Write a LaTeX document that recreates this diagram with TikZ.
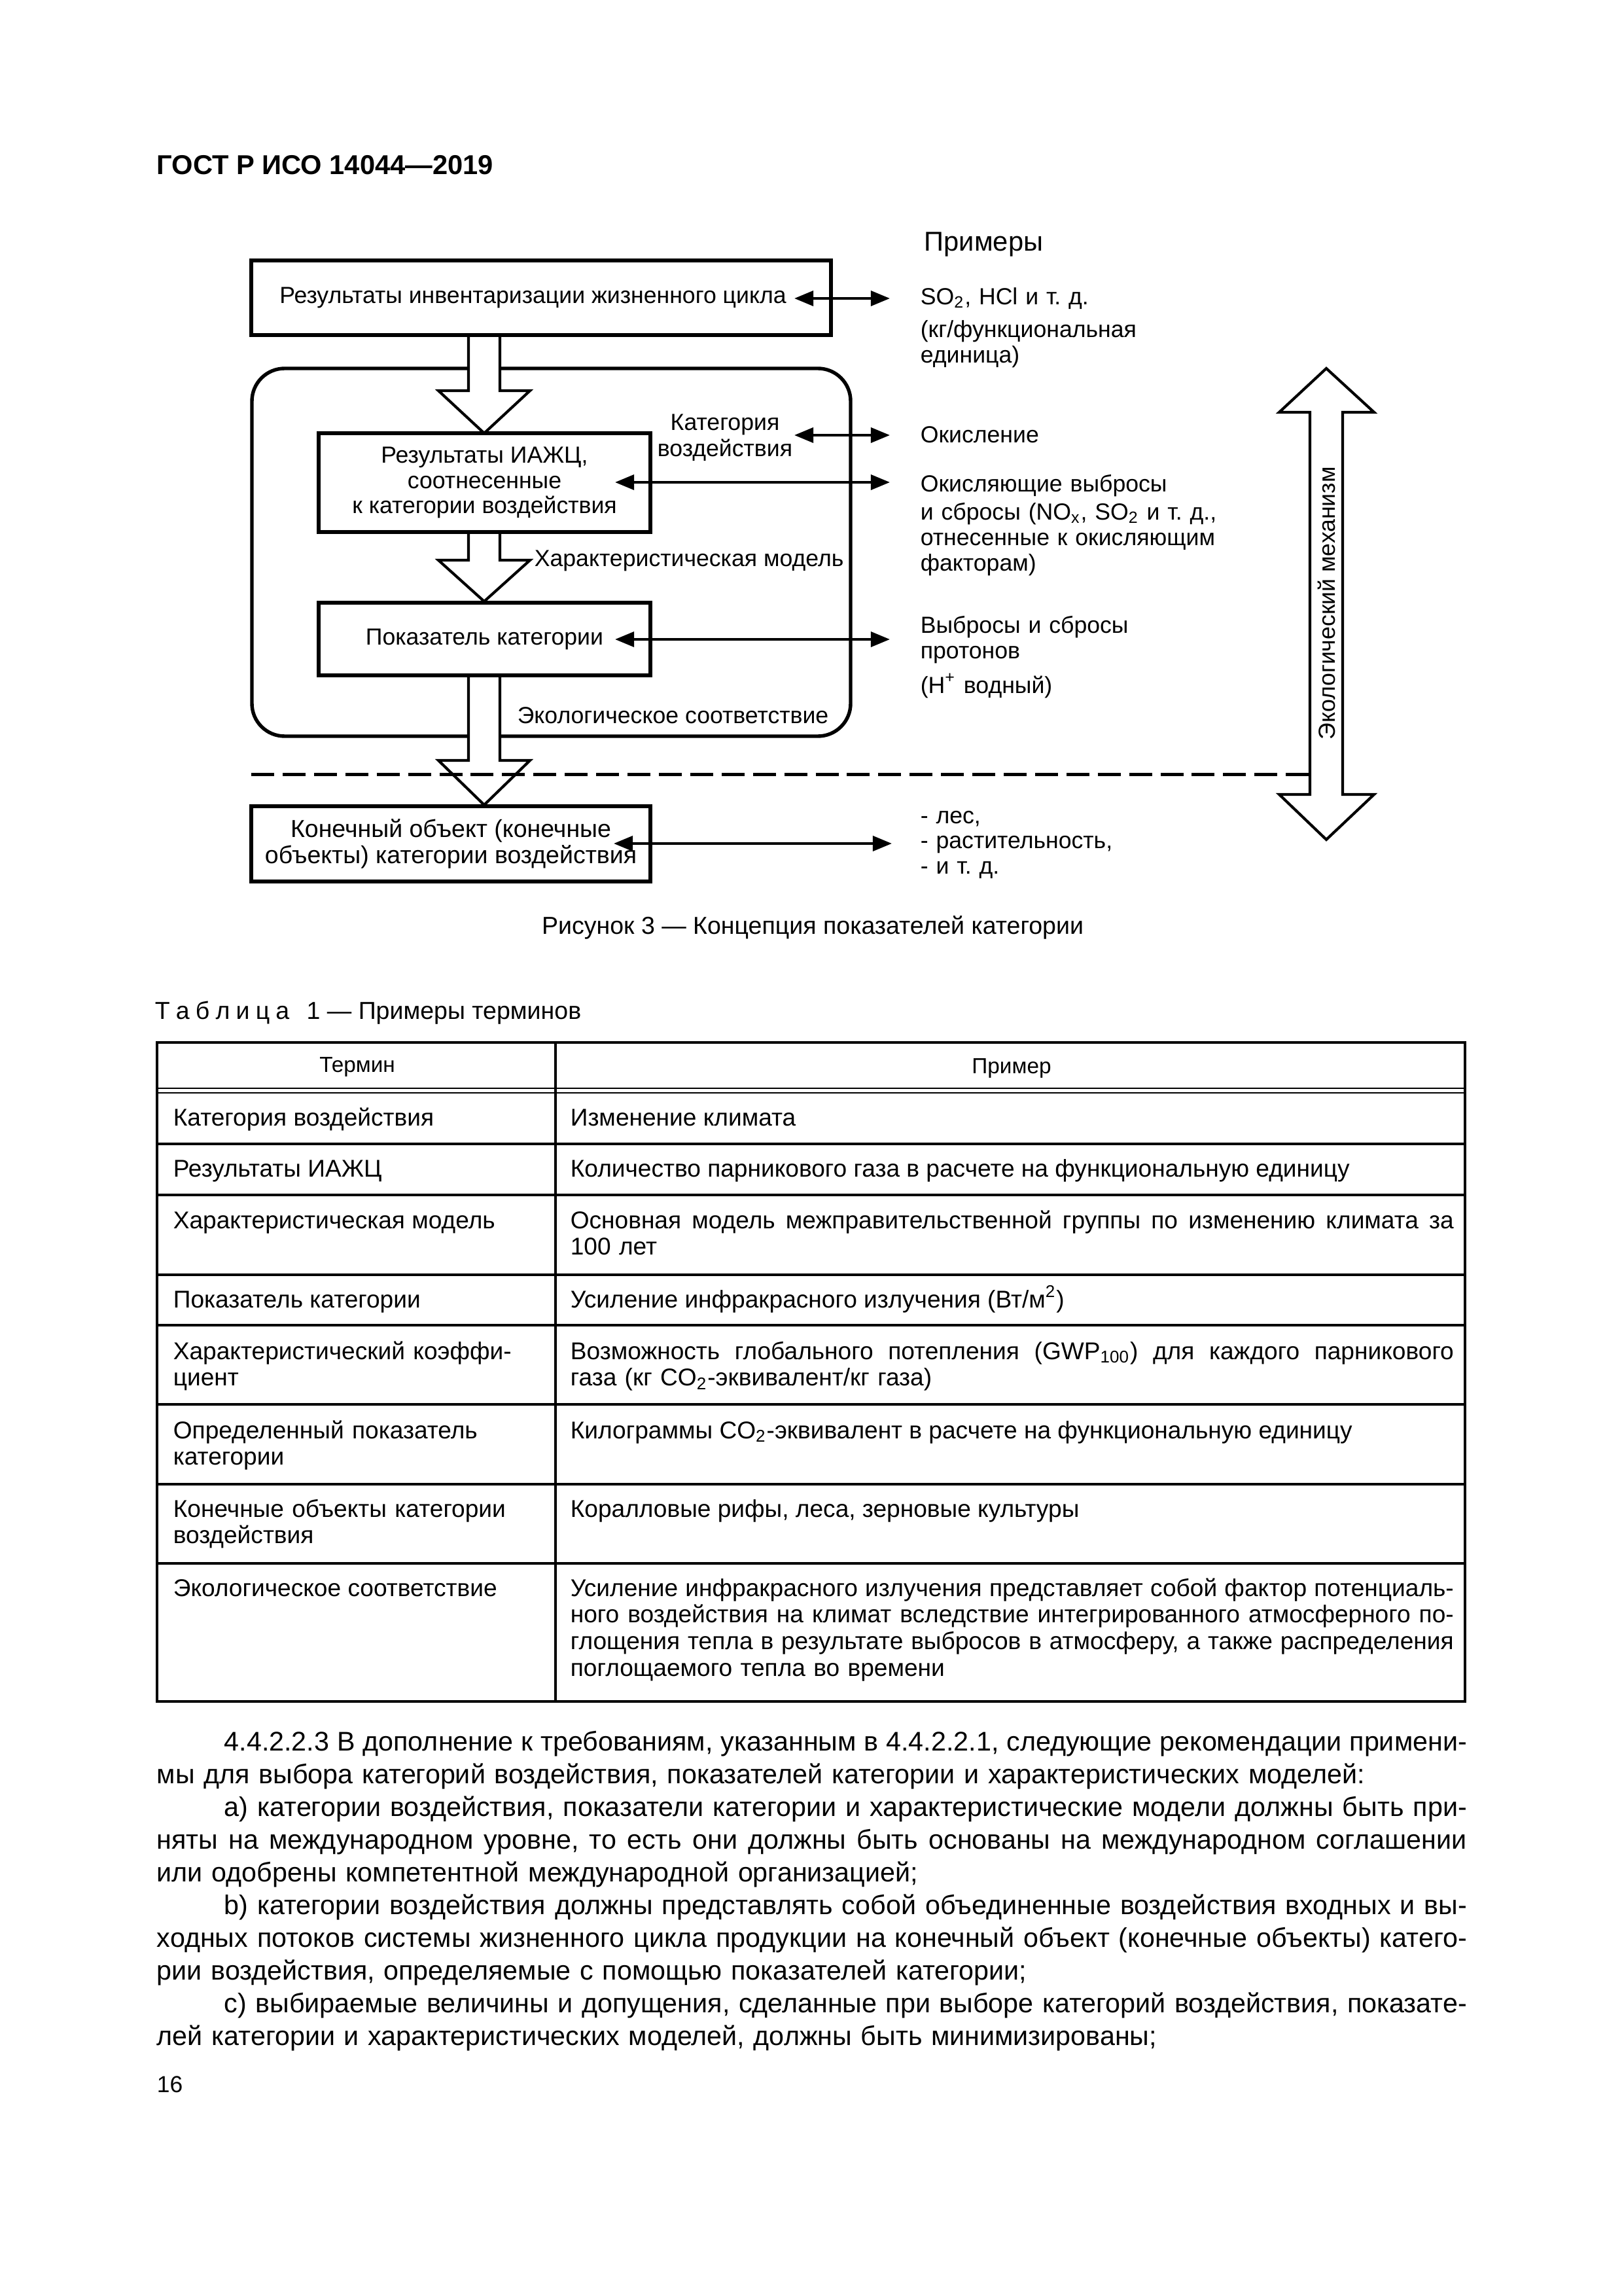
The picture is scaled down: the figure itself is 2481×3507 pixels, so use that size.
\documentclass[tikz,border=0pt]{standalone}
\usepackage{fontspec}
\setmainfont{Liberation Sans}
\usetikzlibrary{arrows.meta,positioning}
\frenchspacing
\newcommand\justline[1]{\makebox[\linewidth][s]{\spaceskip=.22em plus 1fil\relax#1}}
\newcommand\indline[1]{\hspace*{24.7pt}\makebox[\dimexpr\linewidth-24.7pt\relax][s]{\spaceskip=.22em plus 1fil\relax#1}}

\begin{document}
\begin{tikzpicture}[x=0.24pt,y=-0.24pt,
  box/.style={draw,line width=1.3pt,inner sep=0pt,align=center,font=\fontsize{8.55}{9.3}\selectfont},
  diag/.style={inner sep=0pt,font=\fontsize{8.55}{9.3}\selectfont},
  ex/.style={diag,anchor=base west,text width=130pt,align=left},
  conn/.style={line width=1pt,{Triangle[length=7pt,width=5.5pt]}-{Triangle[length=7pt,width=5.5pt]}},
  blk/.style={draw,fill=white,line width=1pt,line join=miter},
  tbl/.style={line width=0.9pt},
  cell/.style={inner sep=0pt,anchor=base west,align=left,font=\fontsize{8.9}{9.8}\selectfont},
  ]
  \useasboundingbox (0,0) rectangle (2481,3507);

  % page head
  \node[anchor=base west,inner sep=0pt,font=\fontsize{10}{12}\selectfont\bfseries] (gost) at (239,267) {ГОСТ Р ИСО 14044—2019};

  % frame of the impact model
  \draw[line width=1.3pt,rounded corners=12pt] (385,563) rectangle (1300,1125);

  % hollow arrows down the chain
  \filldraw[blk] (716,512) -- (716,597) -- (670,597) -- (740,662) -- (810,597) -- (764,597) -- (764,512) -- cycle;
  \filldraw[blk] (716,813) -- (716,856) -- (670,856) -- (740,919) -- (810,856) -- (764,856) -- (764,813) -- cycle;
  \filldraw[blk] (716,1032) -- (716,1162) -- (670,1162) -- (740,1230) -- (810,1162) -- (764,1162) -- (764,1032) -- cycle;

  % environmental mechanism arrow
  \filldraw[blk] (2002,630) -- (1955,630) -- (2027,563) -- (2100,630) -- (2052,630) -- (2052,1214)
    -- (2100,1214) -- (2027,1283) -- (1955,1214) -- (2002,1214) -- cycle;
  \node[diag,rotate=90] (mech) at (2027,922) {Экологический механизм};

  % boxes
  \node[box,minimum width=886*0.24pt,minimum height=114*0.24pt] (lci) at (827,455)
    {Результаты инвентаризации жизненного цикла\hspace*{6pt}};
  \node[box,minimum width=507*0.24pt,minimum height=151*0.24pt] (lcia) at (740.5,737.5)
    {Результаты ИАЖЦ,\\соотнесенные\\к категории воздействия};
  \node[box,minimum width=507*0.24pt,minimum height=111*0.24pt] (ind) at (740.5,976.5)
    {Показатель категории};
  \node[box,minimum width=610*0.24pt,minimum height=115*0.24pt,font=\fontsize{9}{9.6}\selectfont] (endpt) at (689,1289.5)
    {Конечный объект (конечные\\объекты) категории воздействия};

  % labels in the frame
  \node[diag,text width=62pt,align=center,anchor=base] (cat) at (1108,658) {Категория\\[0.3pt]воздействия};
  \node[diag,anchor=base west] (model) at (816,866) {Характеристическая модель};
  \node[diag,anchor=base west] (relev) at (790,1105) {Экологическое соответствие};

  % border of the endpoints
  \coordinate (dl) at (384,1183);
  \coordinate (dr) at (2002,1183);
  \draw[line width=1.2pt,dash pattern=on 8.4pt off 3.1pt] (dl) -- (dr);

  % examples
  \node[diag,anchor=base west,font=\fontsize{10}{12}\selectfont] (exhead) at (1412,384) {Примеры};
  \node[ex] (ex1) at (1406,466) {SO\textsubscript{2}, HCl и т. д.\\[2.6pt](кг/функциональная\\единица)};
  \node[ex] (ex2) at (1406,677) {Окисление};
  \node[ex] (ex3) at (1406,752) {Окисляющие выбросы\\[1pt]и сбросы (NO\textsubscript{x}, SO\textsubscript{2} и т. д.,\\отнесенные к окисляющим\\факторам)};
  \node[ex] (ex4) at (1406,968) {Выбросы и сбросы\\протонов\\[3.4pt](H\textsuperscript{+} водный)};
  \node[ex] (ex5) at (1406,1258) {- лес,\\- растительность,\\- и т. д.};

  \foreach \n/\xa/\xb/\y in {1/1214/1360/456, 2/1214/1360/665, 3/940/1360/737, 4/940/1360/977, 5/938/1363/1289} {
    \coordinate (in\n) at (\xa,\y);
    \coordinate (out\n) at (\xb,\y);
    \draw[conn] (in\n) -- (out\n);
  }

  \node[anchor=base,inner sep=0pt,font=\fontsize{9}{11}\selectfont] (fig) at (1242,1427) {Рисунок 3 — Концепция показателей категории};

  % table
  \node[anchor=base west,inner sep=0pt,font=\fontsize{9}{11}\selectfont] (tabttl) at (236,1557)
    {Т\hspace{.245em}а\hspace{.245em}б\hspace{.245em}л\hspace{.245em}и\hspace{.245em}ц\hspace{.245em}а\hspace{.7em}1 — Примеры терминов};
  \draw[tbl] (240,1593) rectangle (2239,2600);
  \draw[tbl] (849,1593) -- (849,2600);
  \draw[line width=0.6pt] (240,1663) -- (2239,1663) (240,1670) -- (2239,1670);
  \foreach \y in {1748,1826,1948,2025,2146,2268,2389}
    \draw[tbl] (240,\y) -- (2239,\y);

  \node[anchor=base,inner sep=0pt,font=\fontsize{8}{10}\selectfont] (hterm) at (546,1638) {Термин};
  \node[anchor=base,inner sep=0pt,font=\fontsize{8}{10}\selectfont] (hex) at (1546,1640) {Пример};

  \node[cell] (t1) at (264,1720) {Категория воздействия};
  \node[cell] (t2) at (264,1798) {Результаты ИАЖЦ};
  \node[cell] (t3) at (264,1877) {Характеристическая модель};
  \node[cell] (t4) at (264,1998) {Показатель категории};
  \node[cell,text width=140pt] (t5) at (264,2077) {Характеристический коэффи-\\циент};
  \node[cell,text width=140pt] (t6) at (264,2198) {Определенный показатель\\категории};
  \node[cell,text width=140pt] (t7) at (264,2318) {Конечные объекты категории\\воздействия};
  \node[cell] (t8) at (264,2439) {Экологическое соответствие};

  \node[cell] (e1) at (871,1720) {Изменение климата};
  \node[cell] (e2) at (871,1798) {Количество парникового газа в расчете на функциональную единицу};
  \node[cell,text width=324pt] (e3) at (871,1877)
    {\justline{Основная модель межправительственной группы по изменению климата за}\\100 лет};
  \node[cell] (e4) at (871,1998) {Усиление инфракрасного излучения (Вт/м\textsuperscript{2})};
  \node[cell,text width=324pt] (e5) at (871,2077)
    {\justline{Возможность глобального потепления (GWP\textsubscript{100}) для каждого парникового}\\газа (кг CO\textsubscript{2}-эквивалент/кг газа)};
  \node[cell] (e6) at (871,2198) {Килограммы CO\textsubscript{2}-эквивалент в расчете на функциональную единицу};
  \node[cell] (e7) at (871,2318) {Коралловые рифы, леса, зерновые культуры};
  \node[cell,text width=324pt] (e8) at (871,2439)
    {\justline{Усиление инфракрасного излучения представляет собой фактор потенциаль-}\\
     \justline{ного воздействия на климат вследствие интегрированного атмосферного по-}\\
     \justline{глощения тепла в результате выбросов в атмосферу, а также распределения}\\
     поглощаемого тепла во времени};

  % running text
  \node[anchor=base west,inner sep=0pt,text width=480.5pt,align=left,font=\fontsize{9.9}{12}\selectfont] (body) at (239,2675)
    {\indline{4.4.2.2.3 В дополнение к требованиям, указанным в 4.4.2.2.1, следующие рекомендации примени-}\\
     мы для выбора категорий воздействия, показателей категории и характеристических моделей:\\
     \indline{a) категории воздействия, показатели категории и характеристические модели должны быть при-}\\
     \justline{няты на международном уровне, то есть они должны быть основаны на международном соглашении}\\
     или одобрены компетентной международной организацией;\\
     \indline{b) категории воздействия должны представлять собой объединенные воздействия входных и вы-}\\
     \justline{ходных потоков системы жизненного цикла продукции на конечный объект (конечные объекты) катего-}\\
     рии воздействия, определяемые с помощью показателей категории;\\
     \indline{c) выбираемые величины и допущения, сделанные при выборе категорий воздействия, показате-}\\
     лей категории и характеристических моделей, должны быть минимизированы;};

  \node[anchor=base west,inner sep=0pt,font=\fontsize{8.5}{10}\selectfont] (pageno) at (239,3197) {16};
\end{tikzpicture}
\end{document}
